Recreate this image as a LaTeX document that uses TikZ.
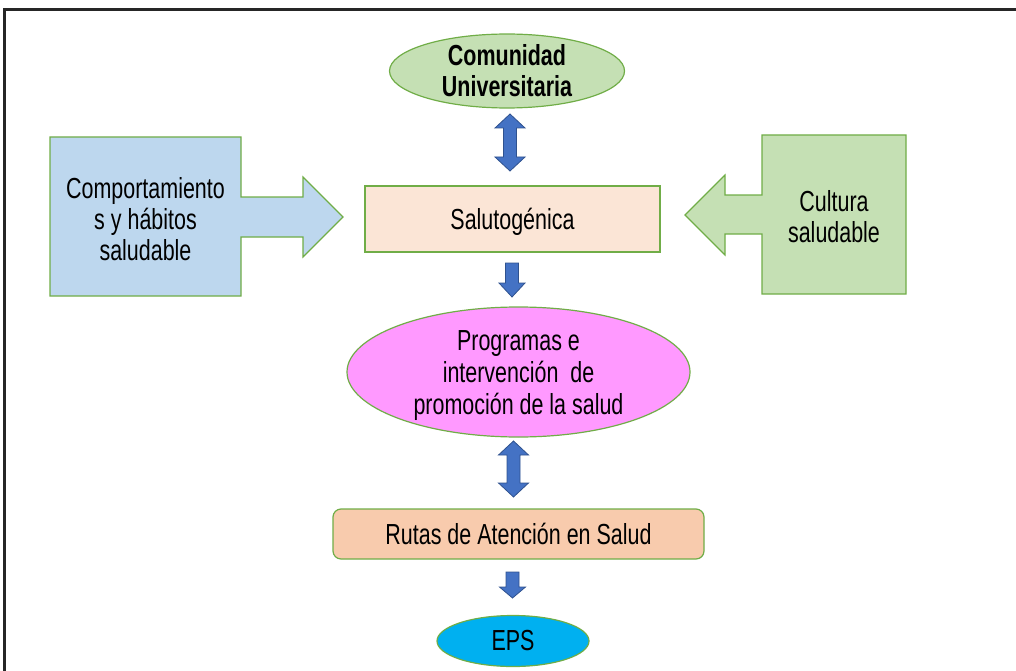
\documentclass[tikz,border=0pt]{standalone}
\usepackage{fontspec}
\setmainfont{Liberation Sans}[FakeStretch=0.74]
\usetikzlibrary{shapes.geometric}
\definecolor{edgegreen}{HTML}{70AD47}
\definecolor{blockblue}{HTML}{4472C4}
\definecolor{blockedge}{HTML}{2F528F}
\definecolor{peachlight}{HTML}{FBE5D6}
\definecolor{peach}{HTML}{F8CBAD}
\definecolor{skyblue}{HTML}{BDD7EE}
\definecolor{leafgreen}{HTML}{C5E0B4}
\definecolor{orchid}{HTML}{FF99FF}
\definecolor{cyanfill}{HTML}{00B0F0}
% vertical block arrows: centre x, top y, bottom y
\newcommand{\blkboth}[3]{%
  \draw[blockarrow] (#1,#2) -- ++(15,14) -- ++(-8.5,0) -- (#1+6.5,#3-14) -- ++(8.5,0)
    -- (#1,#3) -- ++(-15,-14) -- ++(8.5,0) -- (#1-6.5,#2+14) -- ++(-8.5,0) -- cycle;}
\newcommand{\blkdown}[4]{%
  \draw[blockarrow] (#1-6.5,#2) -- (#1+6.5,#2) -- (#1+6.5,#3-#4) -- (#1+13,#3-#4)
    -- (#1,#3) -- (#1-13,#3-#4) -- (#1-6.5,#3-#4) -- cycle;}
\begin{document}
\begin{tikzpicture}[x=1pt, y=-1pt, line width=1pt,
  font=\fontsize{29}{31}\selectfont,
  blockarrow/.style={fill=blockblue, draw=blockedge, line width=0.8pt},
  shapebox/.style={draw=edgegreen, line width=1.2pt},
  label/.style={align=center, inner sep=0pt}]
  \useasboundingbox (0,0) rectangle (1016,671);
  \draw[line width=3pt, black!85] (4,671) -- (4,10) -- (1016,10);
  % top and centre chain
  \node[ellipse, shapebox, fill=leafgreen, minimum width=235pt, minimum height=70pt, inner sep=0pt,
    font=\fontsize{29}{31}\selectfont\bfseries, align=center] (comunidad) at (507,71) {Comunidad\\Universitaria};
  \blkboth{510}{114}{171}
  \node[rectangle, shapebox, fill=peachlight, minimum width=295pt, minimum height=66pt, text depth=0pt] (salut) at (512.5,219) {Salutogénica};
  \blkdown{512}{263}{297}{14}
  \node[ellipse, shapebox, fill=orchid, minimum width=343pt, minimum height=130pt] (programas) at (518.5,372) {};
  \node[label, font=\fontsize{29}{32}\selectfont] (programastxt) at ([yshift=-4pt]programas.center)
    {Programas e\\intervención\ \ de\\promoción de la salud};
  \blkboth{513.5}{441}{497}
  \node[rectangle, rounded corners=8pt, shapebox, fill=peach, minimum width=371pt, minimum height=50pt, text depth=0pt] (rutas) at (518.5,534) {Rutas de Atención en Salud};
  \blkdown{512.5}{572}{598}{11}
  \node[ellipse, shapebox, fill=cyanfill, minimum width=152pt, minimum height=51pt, inner sep=0pt] (eps) at (513,641) {EPS};
  % side callouts
  \draw[shapebox, fill=skyblue] (50,137) -- (241,137) -- (241,197) -- (303,197) -- (303,177) -- (343,217)
    -- (303,257) -- (303,237) -- (241,237) -- (241,296) -- (50,296) -- cycle;
  \node[label] (habitos) at (145.5,219) {Comportamiento\\s y hábitos\\saludable};
  \draw[shapebox, fill=leafgreen] (906,135) -- (762,135) -- (762,195) -- (725,195) -- (725,175) -- (685,215)
    -- (725,255) -- (725,234) -- (762,234) -- (762,294) -- (906,294) -- cycle;
  \node[label] (cultura) at (834,217) {Cultura\\saludable};
\end{tikzpicture}
\end{document}
